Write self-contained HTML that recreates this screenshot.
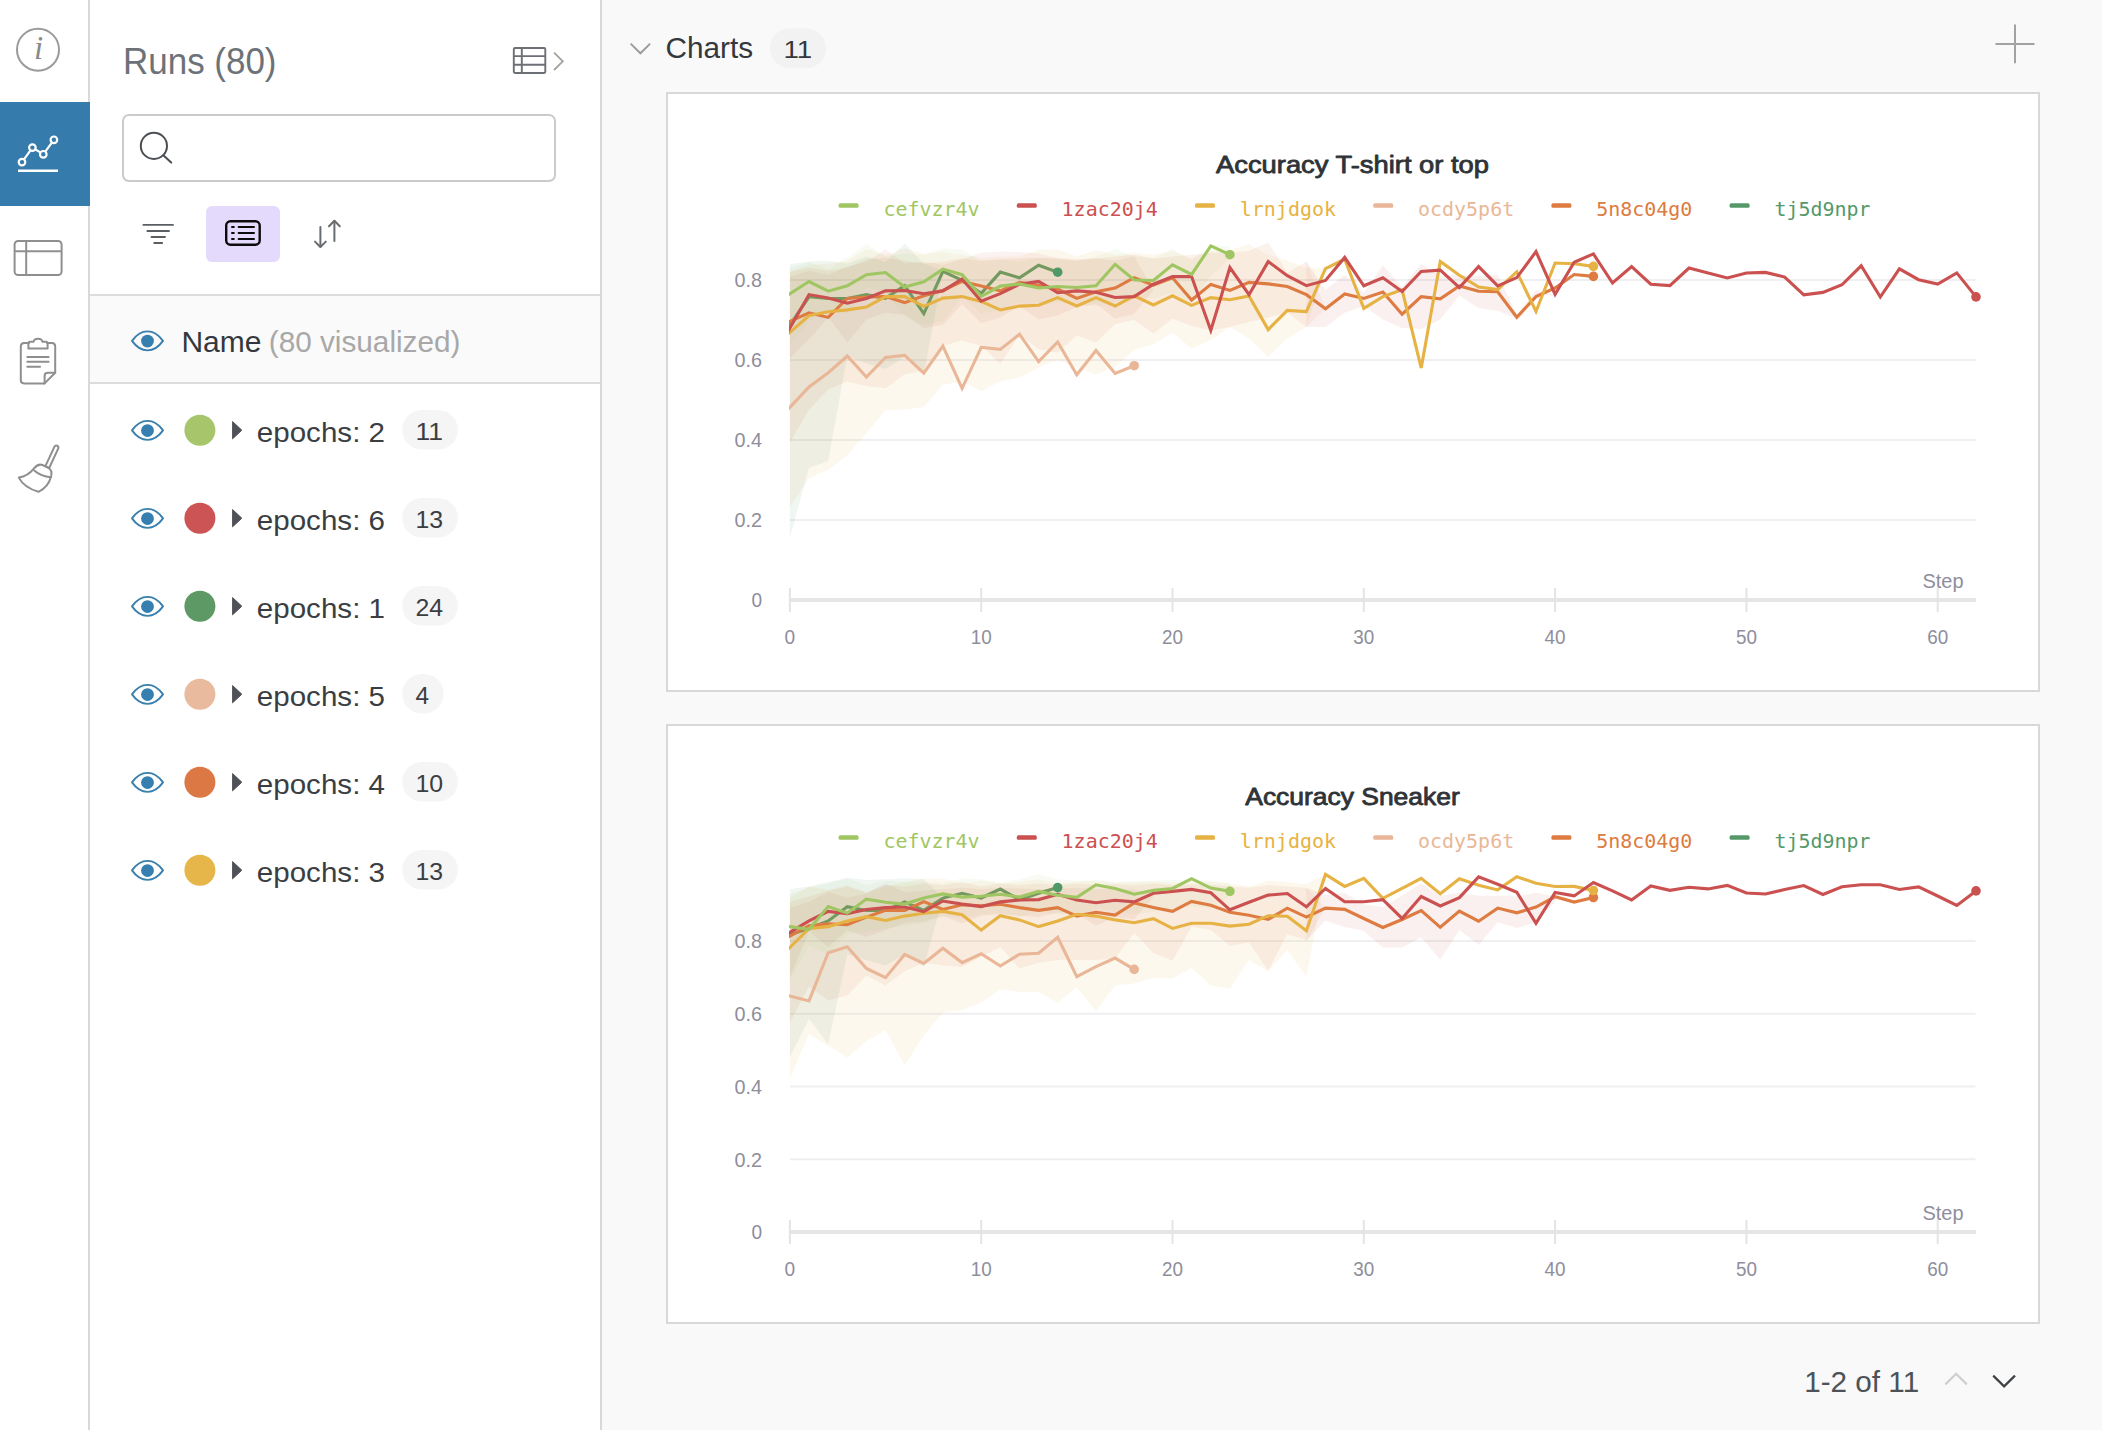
<!DOCTYPE html>
<html lang="en"><head><meta charset="utf-8"><title>Runs</title>
<style>
html,body{margin:0;padding:0;background:#fff;}
body{width:2102px;height:1430px;position:relative;overflow:hidden;font-family:"Liberation Sans", sans-serif;}
.abs{position:absolute;box-sizing:border-box;}
#nav{left:0;top:0;width:90px;height:1430px;background:#fff;border-right:2px solid #d9d9d9;}
#navsel{left:0;top:102px;width:90px;height:104px;background:#357bab;}
#side{left:90px;top:0;width:512px;height:1430px;background:#fff;border-right:2px solid #d8d8d8;}
#main{left:602px;top:0;width:1500px;height:1430px;background:#f9f9f9;}
#search{left:122px;top:114px;width:434px;height:68px;border:2px solid #cbcbcb;border-radius:7px;background:#fff;}
#grpbtn{left:206px;top:206px;width:74px;height:56px;border-radius:6px;background:#e4dafb;}
#namerow{left:90px;top:294px;width:510px;height:90px;background:#fafafa;border-top:2px solid #dcdcdc;border-bottom:2px solid #dcdcdc;}
.panel{left:666px;width:1374px;height:600px;background:#fff;border:2px solid #d8d8d8;}
svg{position:absolute;left:0;top:0;overflow:visible;}
</style></head>
<body>
<div id="nav" class="abs"></div>
<div id="navsel" class="abs"></div>
<div id="side" class="abs"></div>
<div id="main" class="abs"></div>
<div id="search" class="abs"></div>
<div id="grpbtn" class="abs"></div>
<div id="namerow" class="abs"></div>
<div class="abs panel" style="top:92px"></div>
<div class="abs panel" style="top:724px"></div>
<svg width="2102" height="1430" viewBox="0 0 2102 1430">
<defs><clipPath id="plotclip"><rect x="789" y="0" width="1300" height="1430"/></clipPath></defs>
<g id="navicons">
<circle cx="38" cy="49.7" r="21" fill="none" stroke="#9a9a9a" stroke-width="2"/>
<text x="38.6" y="59.4" font-size="33" fill="#8a8a8a" text-anchor="middle" font-weight="normal" font-family='"Liberation Serif", serif' font-style="italic">i</text>
<g stroke="#fff" stroke-width="2.2" fill="#357bab">
<polyline fill="none" points="22,162.1 32.4,147.6 43.3,154.3 53.9,139.8"/>
<circle cx="22" cy="162.1" r="3.3"/>
<circle cx="32.4" cy="147.6" r="3.3"/>
<circle cx="43.3" cy="154.3" r="3.3"/>
<circle cx="53.9" cy="139.8" r="3.3"/>
<line x1="18" y1="170.8" x2="58" y2="170.8" stroke-width="2.4"/>
</g>
<g fill="none" stroke="#8f8f8f" stroke-width="2"><rect x="14.6" y="240.9" width="47" height="34.2" rx="3.5"/><line x1="14.6" y1="251.3" x2="61.6" y2="251.3"/><line x1="26.2" y1="240.9" x2="26.2" y2="275"/></g>
<g fill="none" stroke="#8f8f8f" stroke-width="2" stroke-linejoin="round" stroke-linecap="round"><path d="M29,343 H24 Q20.8,343 20.8,346.5 V380 Q20.8,383.4 24,383.4 H44.6 L55.2,372.8 V346.5 Q55.2,343 52,343 H47"/><path d="M44.6,383.4 V376 Q44.6,372.8 48,372.8 H55.2"/><path d="M28.4,348.6 V343.5 Q28.4,341.8 30,341.8 H33.5 Q34,338.8 38,338.8 Q42,338.8 42.5,341.8 H46 Q47.6,341.8 47.6,343.5 V348.6 Z"/><line x1="27.3" y1="357" x2="48.6" y2="357"/><line x1="27.3" y1="361.8" x2="48.6" y2="361.8"/><line x1="27.3" y1="366.8" x2="40" y2="366.8"/></g>
<g fill="none" stroke="#8f8f8f" stroke-width="2" stroke-linejoin="round" stroke-linecap="round"><path d="M54.5,446.6 L45.4,466.2 L49.2,468 L58.3,448.4 Q58.8,446.4 57.2,445.6 Q55.4,445 54.5,446.6 Z"/><path d="M18.8,477.6 Q28,476 33.8,468.6 Q38,463.4 42.5,465 L48,467.6 Q52.5,470 51.2,476 Q48.5,487 38.5,491.8 Q24,487.5 18.8,477.6 Z"/><path d="M34.2,470.6 Q41,476.5 50.8,477.2"/></g>
</g>
<g id="sidebar">
<text x="123.0" y="74.3" font-size="37.5" fill="#6c7278" text-anchor="start" font-weight="normal" font-family='"Liberation Sans", sans-serif' textLength="153.5" lengthAdjust="spacingAndGlyphs">Runs (80)</text>
<g fill="none" stroke="#6c6f73" stroke-width="1.9"><rect x="513.8" y="48" width="31.5" height="25" rx="1.2"/><line x1="513.8" y1="56.1" x2="545.3" y2="56.1"/><line x1="513.8" y1="64.7" x2="545.3" y2="64.7"/><line x1="521.8" y1="48" x2="521.8" y2="73"/><polyline points="554,52.6 562.8,61.3 554,70" stroke="#a2a2a2" stroke-width="1.8"/></g>
<g fill="none" stroke="#4b4e53" stroke-width="2" stroke-linecap="round"><circle cx="153.9" cy="145.9" r="13.1"/><line x1="163.6" y1="155.4" x2="171.2" y2="162.6"/></g>
<g stroke="#5b5e62" stroke-width="1.9" stroke-linecap="round"><line x1="143.4" y1="224.9" x2="173" y2="224.9"/><line x1="147.4" y1="231" x2="169" y2="231"/><line x1="151.5" y1="237" x2="165" y2="237"/><line x1="154.2" y1="243" x2="162.2" y2="243"/></g>
<rect x="226.2" y="221.3" width="33.5" height="23.4" rx="4.2" fill="none" stroke="#0c0c0c" stroke-width="2.4"/><g stroke="#0c0c0c" stroke-width="2" stroke-linecap="round"><line x1="232" y1="227" x2="233.8" y2="227"/><line x1="238.6" y1="227" x2="254" y2="227"/><line x1="232" y1="233" x2="233.8" y2="233"/><line x1="238.6" y1="233" x2="254" y2="233"/><line x1="232" y1="239" x2="233.8" y2="239"/><line x1="238.6" y1="239" x2="254" y2="239"/></g>
<g fill="none" stroke="#686b6f" stroke-width="2" stroke-linecap="round" stroke-linejoin="round"><line x1="320.4" y1="227" x2="320.4" y2="246.8"/><polyline points="315,241.6 320.4,247 325.8,241.6"/><line x1="334.4" y1="221.2" x2="334.4" y2="241"/><polyline points="329,226.2 334.4,220.8 339.8,226.2"/></g>
<g transform="translate(147.5,340.85)" fill="none" stroke="#367fae" stroke-width="1.9" stroke-linejoin="round"><path d="M-15.5,0 C-11.2,-6 -5.8,-9.5 0,-9.5 C5.8,-9.5 11.2,-6 15.5,0 C11.2,6 5.8,9.5 0,9.5 C-5.8,9.5 -11.2,6 -15.5,0 Z"/><circle cx="0" cy="0.2" r="6.4" fill="#367fae" stroke="none"/></g>
<text x="181.4" y="351.6" font-size="29.5" fill="#34383c" text-anchor="start" font-weight="normal" font-family='"Liberation Sans", sans-serif' textLength="80.0" lengthAdjust="spacingAndGlyphs">Name</text>
<text x="268.8" y="351.6" font-size="29.5" fill="#a8a8a8" text-anchor="start" font-weight="normal" font-family='"Liberation Sans", sans-serif' textLength="191.6" lengthAdjust="spacingAndGlyphs">(80 visualized)</text>
<g transform="translate(147.5,430.35)" fill="none" stroke="#367fae" stroke-width="1.9" stroke-linejoin="round"><path d="M-15.5,0 C-11.2,-6 -5.8,-9.5 0,-9.5 C5.8,-9.5 11.2,-6 15.5,0 C11.2,6 5.8,9.5 0,9.5 C-5.8,9.5 -11.2,6 -15.5,0 Z"/><circle cx="0" cy="0.2" r="6.4" fill="#367fae" stroke="none"/></g>
<circle cx="199.9" cy="430.2" r="15.5" fill="#a7c66c"/>
<path d="M232.6,421.6 L241.8,430.2 L232.6,438.8 Z" fill="#4f5158" stroke="#4f5158" stroke-width="1" stroke-linejoin="round"/>
<text x="256.8" y="441.7" font-size="28" fill="#3a3e42" text-anchor="start" font-weight="normal" font-family='"Liberation Sans", sans-serif' textLength="128.2" lengthAdjust="spacingAndGlyphs">epochs: 2</text>
<rect x="402.2" y="409.9" width="55.6" height="39.6" rx="19.8" fill="#f5f5f5"/>
<text x="415.4" y="439.8" font-size="24.5" fill="#3a3e42" text-anchor="start" font-weight="normal" font-family='"Liberation Sans", sans-serif' textLength="27.6" lengthAdjust="spacingAndGlyphs">11</text>
<g transform="translate(147.5,518.35)" fill="none" stroke="#367fae" stroke-width="1.9" stroke-linejoin="round"><path d="M-15.5,0 C-11.2,-6 -5.8,-9.5 0,-9.5 C5.8,-9.5 11.2,-6 15.5,0 C11.2,6 5.8,9.5 0,9.5 C-5.8,9.5 -11.2,6 -15.5,0 Z"/><circle cx="0" cy="0.2" r="6.4" fill="#367fae" stroke="none"/></g>
<circle cx="199.9" cy="518.2" r="15.5" fill="#cc5454"/>
<path d="M232.6,509.6 L241.8,518.2 L232.6,526.8 Z" fill="#4f5158" stroke="#4f5158" stroke-width="1" stroke-linejoin="round"/>
<text x="256.8" y="529.7" font-size="28" fill="#3a3e42" text-anchor="start" font-weight="normal" font-family='"Liberation Sans", sans-serif' textLength="128.2" lengthAdjust="spacingAndGlyphs">epochs: 6</text>
<rect x="402.2" y="497.9" width="55.6" height="39.6" rx="19.8" fill="#f5f5f5"/>
<text x="415.4" y="527.8" font-size="24.5" fill="#3a3e42" text-anchor="start" font-weight="normal" font-family='"Liberation Sans", sans-serif' textLength="27.6" lengthAdjust="spacingAndGlyphs">13</text>
<g transform="translate(147.5,606.35)" fill="none" stroke="#367fae" stroke-width="1.9" stroke-linejoin="round"><path d="M-15.5,0 C-11.2,-6 -5.8,-9.5 0,-9.5 C5.8,-9.5 11.2,-6 15.5,0 C11.2,6 5.8,9.5 0,9.5 C-5.8,9.5 -11.2,6 -15.5,0 Z"/><circle cx="0" cy="0.2" r="6.4" fill="#367fae" stroke="none"/></g>
<circle cx="199.9" cy="606.2" r="15.5" fill="#5d9964"/>
<path d="M232.6,597.6 L241.8,606.2 L232.6,614.8 Z" fill="#4f5158" stroke="#4f5158" stroke-width="1" stroke-linejoin="round"/>
<text x="256.8" y="617.7" font-size="28" fill="#3a3e42" text-anchor="start" font-weight="normal" font-family='"Liberation Sans", sans-serif' textLength="128.2" lengthAdjust="spacingAndGlyphs">epochs: 1</text>
<rect x="402.2" y="585.9" width="55.6" height="39.6" rx="19.8" fill="#f5f5f5"/>
<text x="415.4" y="615.8" font-size="24.5" fill="#3a3e42" text-anchor="start" font-weight="normal" font-family='"Liberation Sans", sans-serif' textLength="27.6" lengthAdjust="spacingAndGlyphs">24</text>
<g transform="translate(147.5,694.35)" fill="none" stroke="#367fae" stroke-width="1.9" stroke-linejoin="round"><path d="M-15.5,0 C-11.2,-6 -5.8,-9.5 0,-9.5 C5.8,-9.5 11.2,-6 15.5,0 C11.2,6 5.8,9.5 0,9.5 C-5.8,9.5 -11.2,6 -15.5,0 Z"/><circle cx="0" cy="0.2" r="6.4" fill="#367fae" stroke="none"/></g>
<circle cx="199.9" cy="694.2" r="15.5" fill="#e9ba9e"/>
<path d="M232.6,685.6 L241.8,694.2 L232.6,702.8 Z" fill="#4f5158" stroke="#4f5158" stroke-width="1" stroke-linejoin="round"/>
<text x="256.8" y="705.7" font-size="28" fill="#3a3e42" text-anchor="start" font-weight="normal" font-family='"Liberation Sans", sans-serif' textLength="128.2" lengthAdjust="spacingAndGlyphs">epochs: 5</text>
<rect x="402.2" y="673.9" width="41.5" height="39.6" rx="19.8" fill="#f5f5f5"/>
<text x="415.4" y="703.8" font-size="24.5" fill="#3a3e42" text-anchor="start" font-weight="normal" font-family='"Liberation Sans", sans-serif' textLength="13.6" lengthAdjust="spacingAndGlyphs">4</text>
<g transform="translate(147.5,782.35)" fill="none" stroke="#367fae" stroke-width="1.9" stroke-linejoin="round"><path d="M-15.5,0 C-11.2,-6 -5.8,-9.5 0,-9.5 C5.8,-9.5 11.2,-6 15.5,0 C11.2,6 5.8,9.5 0,9.5 C-5.8,9.5 -11.2,6 -15.5,0 Z"/><circle cx="0" cy="0.2" r="6.4" fill="#367fae" stroke="none"/></g>
<circle cx="199.9" cy="782.2" r="15.5" fill="#dc7843"/>
<path d="M232.6,773.6 L241.8,782.2 L232.6,790.8 Z" fill="#4f5158" stroke="#4f5158" stroke-width="1" stroke-linejoin="round"/>
<text x="256.8" y="793.7" font-size="28" fill="#3a3e42" text-anchor="start" font-weight="normal" font-family='"Liberation Sans", sans-serif' textLength="128.2" lengthAdjust="spacingAndGlyphs">epochs: 4</text>
<rect x="402.2" y="761.9" width="55.6" height="39.6" rx="19.8" fill="#f5f5f5"/>
<text x="415.4" y="791.8" font-size="24.5" fill="#3a3e42" text-anchor="start" font-weight="normal" font-family='"Liberation Sans", sans-serif' textLength="27.6" lengthAdjust="spacingAndGlyphs">10</text>
<g transform="translate(147.5,870.35)" fill="none" stroke="#367fae" stroke-width="1.9" stroke-linejoin="round"><path d="M-15.5,0 C-11.2,-6 -5.8,-9.5 0,-9.5 C5.8,-9.5 11.2,-6 15.5,0 C11.2,6 5.8,9.5 0,9.5 C-5.8,9.5 -11.2,6 -15.5,0 Z"/><circle cx="0" cy="0.2" r="6.4" fill="#367fae" stroke="none"/></g>
<circle cx="199.9" cy="870.2" r="15.5" fill="#e6b64a"/>
<path d="M232.6,861.6 L241.8,870.2 L232.6,878.8 Z" fill="#4f5158" stroke="#4f5158" stroke-width="1" stroke-linejoin="round"/>
<text x="256.8" y="881.7" font-size="28" fill="#3a3e42" text-anchor="start" font-weight="normal" font-family='"Liberation Sans", sans-serif' textLength="128.2" lengthAdjust="spacingAndGlyphs">epochs: 3</text>
<rect x="402.2" y="849.9" width="55.6" height="39.6" rx="19.8" fill="#f5f5f5"/>
<text x="415.4" y="879.8" font-size="24.5" fill="#3a3e42" text-anchor="start" font-weight="normal" font-family='"Liberation Sans", sans-serif' textLength="27.6" lengthAdjust="spacingAndGlyphs">13</text>
</g>
<g id="charts">
<polyline points="630.6,43.6 640.4,53.3 650.2,43.6" fill="none" stroke="#9c9c9c" stroke-width="1.9"/>
<text x="665.5" y="57.5" font-size="30" fill="#34383c" text-anchor="start" font-weight="normal" font-family='"Liberation Sans", sans-serif' textLength="87.6" lengthAdjust="spacingAndGlyphs">Charts</text>
<rect x="770" y="28.2" width="56" height="40" rx="20" fill="#f2f2f2"/>
<text x="783.4" y="57.6" font-size="24.5" fill="#34383c" text-anchor="start" font-weight="normal" font-family='"Liberation Sans", sans-serif' textLength="28.8" lengthAdjust="spacingAndGlyphs">11</text>
<g stroke="#a2a2a2" stroke-width="2"><line x1="1995.5" y1="44" x2="2034.5" y2="44"/><line x1="2015" y1="24.5" x2="2015" y2="63.2"/></g>
<text x="1804.2" y="1392.0" font-size="30" fill="#4c5258" text-anchor="start" font-weight="normal" font-family='"Liberation Sans", sans-serif' textLength="115.0" lengthAdjust="spacingAndGlyphs">1-2 of 11</text>
<polyline points="1945.4,1384.4 1956.1,1373.8 1966.8,1384.4" fill="none" stroke="#cfcfcf" stroke-width="2.2"/>
<polyline points="1993.2,1375.6 2004.1,1386.4 2015,1375.6" fill="none" stroke="#3f4347" stroke-width="2.2"/>
<line x1="790" y1="520.0" x2="1975.5" y2="520.0" stroke="#efeff1" stroke-width="2"/>
<line x1="790" y1="440.0" x2="1975.5" y2="440.0" stroke="#efeff1" stroke-width="2"/>
<line x1="790" y1="360.0" x2="1975.5" y2="360.0" stroke="#efeff1" stroke-width="2"/>
<line x1="790" y1="280.0" x2="1975.5" y2="280.0" stroke="#efeff1" stroke-width="2"/>
<polygon points="789.9,270.7 809.0,265.0 828.2,263.5 847.3,260.7 866.4,249.3 885.5,255.0 904.7,248.6 923.8,253.6 942.9,252.1 962.1,255.0 981.2,257.8 1000.3,256.4 1019.5,256.4 1038.6,250.0 1057.7,249.3 1076.8,256.4 1096.0,250.0 1115.1,254.7 1134.2,252.8 1153.4,254.7 1172.5,250.9 1191.6,258.5 1210.8,250.9 1229.9,250.0 1249.0,244.3 1268.2,254.7 1287.3,260.4 1306.4,268.1 1325.5,268.6 1306.4,327.1 1287.3,338.5 1268.2,357.0 1249.0,338.5 1229.9,327.1 1210.8,339.9 1191.6,348.5 1172.5,332.8 1153.4,344.2 1134.2,349.9 1115.1,367.0 1096.0,374.2 1076.8,367.8 1057.7,359.8 1038.6,367.8 1019.5,377.5 1000.3,381.5 981.2,391.1 962.1,381.5 942.9,384.7 923.8,407.2 904.7,409.6 885.5,410.4 866.4,432.9 847.3,455.5 828.2,469.9 809.0,478.0 789.9,506.9" fill="#e6b243" fill-opacity="0.09"/>
<polygon points="789.9,272.1 809.0,267.8 828.2,270.7 847.3,267.8 866.4,259.3 885.5,257.8 904.7,260.7 923.8,263.5 942.9,261.4 962.1,258.5 981.2,260.7 1000.3,259.3 1019.5,258.5 1038.6,257.8 1057.7,258.5 1076.8,260.7 1096.0,258.5 1115.1,256.6 1134.2,254.7 1153.4,258.5 1172.5,256.6 1191.6,254.7 1210.8,252.8 1229.9,252.8 1249.0,250.9 1268.2,242.4 1287.3,272.8 1306.4,261.4 1325.5,308.7 1306.4,327.1 1287.3,312.5 1268.2,317.7 1249.0,321.9 1229.9,327.0 1210.8,330.2 1191.6,326.0 1172.5,318.7 1153.4,333.4 1134.2,320.0 1115.1,324.0 1096.0,342.7 1076.8,335.6 1057.7,352.7 1038.6,349.3 1019.5,334.8 1000.3,363.8 981.2,346.0 962.1,340.5 942.9,346.0 923.8,371.0 904.7,374.2 885.5,388.2 866.4,386.3 847.3,381.5 828.2,389.5 809.0,410.0 789.9,442.6" fill="#dd7b40" fill-opacity="0.075"/>
<polygon points="789.9,272.1 809.0,267.8 828.2,270.7 847.3,267.8 866.4,259.3 885.5,257.8 904.7,260.7 923.8,263.5 942.9,261.4 962.1,258.5 981.2,260.7 1000.3,259.3 1019.5,258.5 1038.6,257.8 1057.7,258.5 1076.8,260.7 1096.0,258.5 1115.1,256.6 1134.2,254.7 1153.4,258.5 1172.5,256.6 1191.6,254.7 1210.8,252.8 1229.9,252.8 1249.0,250.9 1268.2,242.4 1287.3,272.8 1306.4,261.4 1306.4,327.1 1287.3,312.5 1268.2,317.7 1249.0,321.9 1229.9,327.0 1210.8,330.2 1191.6,326.0 1172.5,318.7 1153.4,333.4 1134.2,320.0 1115.1,324.0 1096.0,342.7 1076.8,335.6 1057.7,352.7 1038.6,349.3 1019.5,334.8 1000.3,363.8 981.2,346.0 962.1,340.5 942.9,346.0 923.8,371.0 904.7,374.2 885.5,388.2 866.4,386.3 847.3,381.5 828.2,389.5 809.0,410.0 789.9,442.6" fill="#cb5050" fill-opacity="0.02"/>
<polygon points="1306.4,261.4 1325.5,289.9 1344.7,274.7 1363.8,292.8 1382.9,265.2 1402.1,287.1 1421.2,263.9 1440.3,275.7 1459.4,274.7 1478.6,275.7 1497.7,274.7 1516.8,315.0 1536.0,290.0 1555.1,295.0 1555.1,295.6 1536.0,295.0 1516.8,318.5 1497.7,310.8 1478.6,308.2 1459.4,295.4 1440.3,319.4 1421.2,329.0 1402.1,328.0 1382.9,319.4 1363.8,306.1 1344.7,312.8 1325.5,327.1 1306.4,327.1" fill="#cb5050" fill-opacity="0.07"/>
<polygon points="1306.4,261.4 1325.5,289.9 1344.7,274.7 1363.8,292.8 1382.9,265.2 1402.1,287.1 1421.2,263.9 1440.3,275.7 1459.4,274.7 1478.6,275.7 1497.7,274.7 1516.8,315.0 1536.0,290.0 1555.1,295.0 1555.1,295.6 1536.0,295.0 1516.8,318.5 1497.7,310.8 1478.6,308.2 1459.4,295.4 1440.3,319.4 1421.2,329.0 1402.1,328.0 1382.9,319.4 1363.8,306.1 1344.7,312.8 1325.5,327.1 1306.4,327.1" fill="#dd7b40" fill-opacity="0.025"/>
<polygon points="789.9,276.4 809.0,270.7 828.2,275.0 847.3,266.4 866.4,262.1 885.5,249.3 904.7,263.5 923.8,262.1 942.9,265.0 962.1,259.3 981.2,252.8 1000.3,251.4 1019.5,252.1 1038.6,253.6 1057.7,257.8 1076.8,259.3 1096.0,258.5 1115.1,260.4 1134.2,256.6 1153.4,290.0 1153.4,290.0 1134.2,314.0 1115.1,318.5 1096.0,304.0 1076.8,307.0 1057.7,315.6 1038.6,319.4 1019.5,306.0 1000.3,317.5 981.2,323.0 962.1,304.0 942.9,325.0 923.8,328.0 904.7,315.0 885.5,312.8 866.4,319.5 847.3,342.3 828.2,317.6 809.0,339.5 789.9,358.5" fill="#cb5050" fill-opacity="0.06"/>
<polygon points="789.9,276.4 809.0,270.7 828.2,275.0 847.3,266.4 866.4,262.1 885.5,249.3 904.7,263.5 923.8,262.1 942.9,265.0 962.1,259.3 981.2,252.8 1000.3,251.4 1019.5,252.1 1038.6,253.6 1057.7,257.8 1076.8,259.3 1096.0,258.5 1115.1,260.4 1134.2,256.6 1153.4,290.0 1153.4,290.0 1134.2,314.0 1115.1,318.5 1096.0,304.0 1076.8,307.0 1057.7,315.6 1038.6,319.4 1019.5,306.0 1000.3,317.5 981.2,323.0 962.1,304.0 942.9,325.0 923.8,328.0 904.7,315.0 885.5,312.8 866.4,319.5 847.3,342.3 828.2,317.6 809.0,339.5 789.9,358.5" fill="#dd7b40" fill-opacity="0.02"/>
<polygon points="789.9,267.8 809.0,262.1 828.2,269.3 847.3,257.8 866.4,244.3 885.5,256.4 904.7,253.6 923.8,255.0 942.9,248.6 962.1,249.3 981.2,260.7 1000.3,260.0 1019.5,262.1 1038.6,257.8 1057.7,260.0 1076.8,260.7 1096.0,256.6 1115.1,249.0 1134.2,256.6 1153.4,258.5 1172.5,249.0 1191.6,260.4 1210.8,245.2 1229.9,246.2 1229.9,258.5 1210.8,275.7 1191.6,302.3 1172.5,292.8 1153.4,298.5 1134.2,296.6 1115.1,302.3 1096.0,306.1 1076.8,304.2 1057.7,302.3 1038.6,306.1 1019.5,302.3 1000.3,309.9 981.2,313.7 962.1,296.6 942.9,321.3 923.8,325.1 904.7,315.6 885.5,292.8 866.4,287.1 847.3,313.7 828.2,309.9 809.0,321.3 789.9,344.2" fill="#9fc662" fill-opacity="0.07"/>
<polygon points="789.9,264.3 809.0,261.4 828.2,260.7 847.3,263.5 866.4,256.4 885.5,262.1 904.7,243.6 923.8,263.5 942.9,270.9 942.9,270.9 923.8,374.7 904.7,357.0 885.5,369.0 866.4,363.3 847.3,356.0 828.2,461.0 809.0,468.0 789.9,537.5" fill="#4f9868" fill-opacity="0.088"/>
<line x1="789" y1="600" x2="1976" y2="600" stroke="#e6e6e8" stroke-width="4"/>
<line x1="789.9" y1="588" x2="789.9" y2="612" stroke="#e4e4e6" stroke-width="2"/>
<text x="789.9" y="644.2" font-size="20" fill="#8e8e9c" text-anchor="middle" font-weight="normal" font-family='"Liberation Sans", sans-serif' textLength="10.6" lengthAdjust="spacingAndGlyphs">0</text>
<line x1="981.2" y1="588" x2="981.2" y2="612" stroke="#e4e4e6" stroke-width="2"/>
<text x="981.2" y="644.2" font-size="20" fill="#8e8e9c" text-anchor="middle" font-weight="normal" font-family='"Liberation Sans", sans-serif' textLength="21.0" lengthAdjust="spacingAndGlyphs">10</text>
<line x1="1172.5" y1="588" x2="1172.5" y2="612" stroke="#e4e4e6" stroke-width="2"/>
<text x="1172.5" y="644.2" font-size="20" fill="#8e8e9c" text-anchor="middle" font-weight="normal" font-family='"Liberation Sans", sans-serif' textLength="21.0" lengthAdjust="spacingAndGlyphs">20</text>
<line x1="1363.8" y1="588" x2="1363.8" y2="612" stroke="#e4e4e6" stroke-width="2"/>
<text x="1363.8" y="644.2" font-size="20" fill="#8e8e9c" text-anchor="middle" font-weight="normal" font-family='"Liberation Sans", sans-serif' textLength="21.0" lengthAdjust="spacingAndGlyphs">30</text>
<line x1="1555.1" y1="588" x2="1555.1" y2="612" stroke="#e4e4e6" stroke-width="2"/>
<text x="1555.1" y="644.2" font-size="20" fill="#8e8e9c" text-anchor="middle" font-weight="normal" font-family='"Liberation Sans", sans-serif' textLength="21.0" lengthAdjust="spacingAndGlyphs">40</text>
<line x1="1746.4" y1="588" x2="1746.4" y2="612" stroke="#e4e4e6" stroke-width="2"/>
<text x="1746.4" y="644.2" font-size="20" fill="#8e8e9c" text-anchor="middle" font-weight="normal" font-family='"Liberation Sans", sans-serif' textLength="21.0" lengthAdjust="spacingAndGlyphs">50</text>
<line x1="1937.7" y1="588" x2="1937.7" y2="612" stroke="#e4e4e6" stroke-width="2"/>
<text x="1937.7" y="644.2" font-size="20" fill="#8e8e9c" text-anchor="middle" font-weight="normal" font-family='"Liberation Sans", sans-serif' textLength="21.0" lengthAdjust="spacingAndGlyphs">60</text>
<text x="762.0" y="607.2" font-size="20" fill="#8e8e9c" text-anchor="end" font-weight="normal" font-family='"Liberation Sans", sans-serif' textLength="10.6" lengthAdjust="spacingAndGlyphs">0</text>
<text x="762.0" y="527.2" font-size="20" fill="#8e8e9c" text-anchor="end" font-weight="normal" font-family='"Liberation Sans", sans-serif' textLength="27.5" lengthAdjust="spacingAndGlyphs">0.2</text>
<text x="762.0" y="447.2" font-size="20" fill="#8e8e9c" text-anchor="end" font-weight="normal" font-family='"Liberation Sans", sans-serif' textLength="27.5" lengthAdjust="spacingAndGlyphs">0.4</text>
<text x="762.0" y="367.2" font-size="20" fill="#8e8e9c" text-anchor="end" font-weight="normal" font-family='"Liberation Sans", sans-serif' textLength="27.5" lengthAdjust="spacingAndGlyphs">0.6</text>
<text x="762.0" y="287.2" font-size="20" fill="#8e8e9c" text-anchor="end" font-weight="normal" font-family='"Liberation Sans", sans-serif' textLength="27.5" lengthAdjust="spacingAndGlyphs">0.8</text>
<text x="1963.5" y="587.7" font-size="20.5" fill="#8e8e9c" text-anchor="end" font-weight="normal" font-family='"Liberation Sans", sans-serif' textLength="41.0" lengthAdjust="spacingAndGlyphs">Step</text>
<polyline points="780.3,339.3 789.9,325.1 809.0,296.8 828.2,298.5 847.3,298.5 866.4,294.7 885.5,298.4 904.7,285.6 923.8,313.6 942.9,271.4 962.1,280.4 981.2,293.4 1000.3,272.1 1019.5,277.8 1038.6,265.3 1057.7,272.2" fill="none" stroke="#73995f" stroke-width="3.1" stroke-linejoin="miter" stroke-miterlimit="4" clip-path="url(#plotclip)"/>
<polyline points="780.3,417.5 789.9,407.4 809.0,387.0 828.2,372.7 847.3,356.0 866.4,377.0 885.5,357.5 904.7,355.3 923.8,373.1 942.9,346.2 962.1,388.3 981.2,347.3 1000.3,349.4 1019.5,334.2 1038.6,361.6 1057.7,342.0 1076.8,374.7 1096.0,350.5 1115.1,373.4 1134.2,365.7" fill="none" stroke="#e9b797" stroke-width="3.1" stroke-linejoin="miter" stroke-miterlimit="4" clip-path="url(#plotclip)"/>
<polyline points="780.3,325.6 789.9,321.3 809.0,312.8 828.2,317.4 847.3,298.5 866.4,297.0 885.5,296.6 904.7,302.6 923.8,295.7 942.9,290.5 962.1,281.4 981.2,286.1 1000.3,290.8 1019.5,282.4 1038.6,285.2 1057.7,289.0 1076.8,298.4 1096.0,291.8 1115.1,288.0 1134.2,277.7 1153.4,285.1 1172.5,277.8 1191.6,300.0 1210.8,284.4 1229.9,290.4 1249.0,282.4 1268.2,283.9 1287.3,286.5 1306.4,294.7 1325.5,308.7 1344.7,293.9 1363.8,298.5 1382.9,292.1 1402.1,314.2 1421.2,296.7 1440.3,298.8 1459.4,285.9 1478.6,291.3 1497.7,291.8 1516.8,317.3 1536.0,296.6 1555.1,288.0 1574.2,274.5 1593.4,276.4" fill="none" stroke="#dd7b40" stroke-width="3.1" stroke-linejoin="miter" stroke-miterlimit="4" clip-path="url(#plotclip)"/>
<polyline points="780.3,340.8 789.9,332.4 809.0,315.6 828.2,311.8 847.3,309.9 866.4,307.1 885.5,296.6 904.7,296.6 923.8,306.4 942.9,298.1 962.1,296.6 981.2,301.4 1000.3,309.9 1019.5,306.1 1038.6,305.2 1057.7,297.6 1076.8,306.0 1096.0,297.7 1115.1,306.0 1134.2,295.8 1153.4,305.0 1172.5,295.8 1191.6,305.4 1210.8,297.6 1229.9,299.8 1249.0,295.9 1268.2,329.6 1287.3,310.4 1306.4,311.6 1325.5,268.6 1344.7,259.1 1363.8,308.4 1382.9,296.6 1402.1,289.9 1421.2,368.0 1440.3,261.4 1459.4,275.3 1478.6,287.1 1497.7,289.5 1516.8,271.7 1536.0,311.5 1555.1,263.0 1574.2,263.8 1593.4,266.4" fill="none" stroke="#e6b243" stroke-width="3.1" stroke-linejoin="miter" stroke-miterlimit="4" clip-path="url(#plotclip)"/>
<polyline points="780.3,344.7 789.9,328.0 809.0,294.6 828.2,298.1 847.3,303.2 866.4,298.5 885.5,290.9 904.7,290.5 923.8,293.7 942.9,290.9 962.1,278.9 981.2,301.1 1000.3,293.7 1019.5,284.2 1038.6,281.4 1057.7,292.7 1076.8,290.9 1096.0,292.2 1115.1,297.5 1134.2,296.6 1153.4,284.2 1172.5,276.6 1191.6,276.5 1210.8,330.4 1229.9,267.6 1249.0,294.7 1268.2,261.6 1287.3,275.7 1306.4,285.7 1325.5,280.4 1344.7,257.4 1363.8,285.8 1382.9,277.7 1402.1,291.5 1421.2,271.5 1440.3,270.1 1459.4,287.6 1478.6,266.6 1497.7,285.9 1516.8,277.6 1536.0,251.6 1555.1,294.4 1574.2,262.3 1593.4,253.9 1612.5,283.0 1631.6,266.6 1650.8,284.2 1669.9,285.6 1689.0,268.0 1708.1,273.0 1727.3,278.0 1746.4,273.0 1765.5,272.4 1784.7,277.1 1803.8,294.9 1822.9,292.4 1842.0,284.8 1861.2,265.8 1880.3,297.0 1899.4,268.8 1918.6,279.7 1937.7,284.1 1956.8,272.9 1976.0,296.9" fill="none" stroke="#cb5050" stroke-width="3.1" stroke-linejoin="miter" stroke-miterlimit="4" clip-path="url(#plotclip)"/>
<polyline points="780.3,299.9 789.9,293.7 809.0,281.5 828.2,291.2 847.3,285.8 866.4,274.7 885.5,272.5 904.7,287.0 923.8,281.8 942.9,269.1 962.1,274.7 981.2,296.3 1000.3,286.1 1019.5,283.9 1038.6,288.0 1057.7,286.5 1076.8,287.5 1096.0,285.8 1115.1,264.3 1134.2,280.0 1153.4,280.5 1172.5,264.8 1191.6,274.4 1210.8,245.9 1229.9,254.7" fill="none" stroke="#9fc662" stroke-width="3.1" stroke-linejoin="miter" stroke-miterlimit="4" clip-path="url(#plotclip)"/>
<circle cx="1057.7" cy="272.2" r="4.8" fill="#4f9868"/>
<circle cx="1134.2" cy="365.7" r="4.8" fill="#e9b797"/>
<circle cx="1593.4" cy="276.4" r="4.8" fill="#dd7b40"/>
<circle cx="1593.4" cy="266.4" r="4.8" fill="#e6b243"/>
<circle cx="1976.0" cy="296.9" r="4.8" fill="#cb5050"/>
<circle cx="1229.9" cy="254.7" r="4.8" fill="#9fc662"/>
<text x="1352.5" y="172.6" font-size="24.6" fill="#2f3337" text-anchor="middle" font-weight="normal" font-family='"Liberation Sans", sans-serif' textLength="273.0" lengthAdjust="spacingAndGlyphs" stroke="#2f3337" stroke-width="0.85" stroke-linejoin="round">Accuracy T-shirt or top</text>
<rect x="838.6" y="203.3" width="20" height="4.5" rx="1.6" fill="#9fc662"/>
<text x="883.4" y="215.8" font-size="20.3" fill="#9fc662" text-anchor="start" font-weight="normal" font-family='"DejaVu Sans Mono", "Liberation Mono", monospace' textLength="96.2" lengthAdjust="spacingAndGlyphs">cefvzr4v</text>
<rect x="1016.8" y="203.3" width="20" height="4.5" rx="1.6" fill="#cb5050"/>
<text x="1061.6" y="215.8" font-size="20.3" fill="#cb5050" text-anchor="start" font-weight="normal" font-family='"DejaVu Sans Mono", "Liberation Mono", monospace' textLength="96.2" lengthAdjust="spacingAndGlyphs">1zac20j4</text>
<rect x="1195.0" y="203.3" width="20" height="4.5" rx="1.6" fill="#e6b243"/>
<text x="1239.8" y="215.8" font-size="20.3" fill="#e6b243" text-anchor="start" font-weight="normal" font-family='"DejaVu Sans Mono", "Liberation Mono", monospace' textLength="96.2" lengthAdjust="spacingAndGlyphs">lrnjdgok</text>
<rect x="1373.2" y="203.3" width="20" height="4.5" rx="1.6" fill="#e9b797"/>
<text x="1418.0" y="215.8" font-size="20.3" fill="#e9b797" text-anchor="start" font-weight="normal" font-family='"DejaVu Sans Mono", "Liberation Mono", monospace' textLength="96.2" lengthAdjust="spacingAndGlyphs">ocdy5p6t</text>
<rect x="1551.4" y="203.3" width="20" height="4.5" rx="1.6" fill="#dd7b40"/>
<text x="1596.2" y="215.8" font-size="20.3" fill="#dd7b40" text-anchor="start" font-weight="normal" font-family='"DejaVu Sans Mono", "Liberation Mono", monospace' textLength="96.2" lengthAdjust="spacingAndGlyphs">5n8c04g0</text>
<rect x="1729.6" y="203.3" width="20" height="4.5" rx="1.6" fill="#55996a"/>
<text x="1774.4" y="215.8" font-size="20.3" fill="#55996a" text-anchor="start" font-weight="normal" font-family='"DejaVu Sans Mono", "Liberation Mono", monospace' textLength="96.2" lengthAdjust="spacingAndGlyphs">tj5d9npr</text>
<line x1="790" y1="1159.2" x2="1975.5" y2="1159.2" stroke="#efeff1" stroke-width="2"/>
<line x1="790" y1="1086.5" x2="1975.5" y2="1086.5" stroke="#efeff1" stroke-width="2"/>
<line x1="790" y1="1013.8" x2="1975.5" y2="1013.8" stroke="#efeff1" stroke-width="2"/>
<line x1="790" y1="941.0" x2="1975.5" y2="941.0" stroke="#efeff1" stroke-width="2"/>
<polygon points="789.9,897.8 809.0,886.4 828.2,890.0 847.3,885.0 866.4,893.5 885.5,886.4 904.7,882.1 923.8,878.6 942.9,878.6 962.1,883.6 981.2,880.7 1000.3,883.6 1019.5,882.1 1038.6,879.3 1057.7,883.6 1076.8,882.1 1096.0,880.7 1115.1,882.8 1134.2,882.1 1153.4,881.4 1172.5,882.8 1191.6,880.7 1210.8,882.1 1229.9,883.6 1249.0,886.4 1268.2,880.7 1287.3,882.1 1306.4,884.3 1325.5,874.4 1306.4,977.0 1287.3,949.9 1268.2,971.3 1249.0,959.9 1229.9,988.5 1210.8,985.6 1191.6,967.9 1172.5,978.5 1153.4,977.9 1134.2,983.6 1115.1,985.6 1096.0,1011.3 1076.8,987.0 1057.7,1002.7 1038.6,992.0 1019.5,992.0 1000.3,989.2 981.2,1002.7 962.1,1009.9 942.9,1012.7 923.8,1035.6 904.7,1065.5 885.5,1029.9 866.4,1041.3 847.3,1057.7 828.2,1045.5 809.0,1034.1 789.9,1078.4" fill="#e6b243" fill-opacity="0.09"/>
<polygon points="789.9,902.1 809.0,896.4 828.2,890.7 847.3,886.4 866.4,892.1 885.5,885.0 904.7,886.4 923.8,883.6 942.9,885.0 962.1,882.1 981.2,886.4 1000.3,883.6 1019.5,885.0 1038.6,883.6 1057.7,885.0 1076.8,883.6 1096.0,885.0 1115.1,884.3 1134.2,885.0 1153.4,883.6 1172.5,885.0 1191.6,884.3 1210.8,885.0 1229.9,886.4 1249.0,887.8 1268.2,885.0 1287.3,886.4 1306.4,887.8 1325.5,908.1 1306.4,940.4 1287.3,934.0 1268.2,970.7 1249.0,942.4 1229.9,946.0 1210.8,929.9 1191.6,926.7 1172.5,960.8 1153.4,952.9 1134.2,933.0 1115.1,958.5 1096.0,960.0 1076.8,959.9 1057.7,959.9 1038.6,962.8 1019.5,968.5 1000.3,947.1 981.2,957.1 962.1,967.1 942.9,965.6 923.8,962.8 904.7,971.3 885.5,985.6 866.4,975.6 847.3,995.6 828.2,1000.6 809.0,986.3 789.9,1022.7" fill="#dd7b40" fill-opacity="0.075"/>
<polygon points="789.9,902.1 809.0,896.4 828.2,890.7 847.3,886.4 866.4,892.1 885.5,885.0 904.7,886.4 923.8,883.6 942.9,885.0 962.1,882.1 981.2,886.4 1000.3,883.6 1019.5,885.0 1038.6,883.6 1057.7,885.0 1076.8,883.6 1096.0,885.0 1115.1,884.3 1134.2,885.0 1153.4,883.6 1172.5,885.0 1191.6,884.3 1210.8,885.0 1229.9,886.4 1249.0,887.8 1268.2,885.0 1287.3,886.4 1306.4,887.8 1306.4,940.4 1287.3,934.0 1268.2,970.7 1249.0,942.4 1229.9,946.0 1210.8,929.9 1191.6,926.7 1172.5,960.8 1153.4,952.9 1134.2,933.0 1115.1,958.5 1096.0,960.0 1076.8,959.9 1057.7,959.9 1038.6,962.8 1019.5,968.5 1000.3,947.1 981.2,957.1 962.1,967.1 942.9,965.6 923.8,962.8 904.7,971.3 885.5,985.6 866.4,975.6 847.3,995.6 828.2,1000.6 809.0,986.3 789.9,1022.7" fill="#cb5050" fill-opacity="0.02"/>
<polygon points="1306.4,887.8 1325.5,894.7 1344.7,892.8 1363.8,904.2 1382.9,907.1 1402.1,895.7 1421.2,883.3 1440.3,895.7 1459.4,892.8 1478.6,895.7 1497.7,895.7 1516.8,896.6 1536.0,892.8 1555.1,896.6 1555.1,901.4 1536.0,922.3 1516.8,928.0 1497.7,922.3 1478.6,945.1 1459.4,929.9 1440.3,959.4 1421.2,937.5 1402.1,947.4 1382.9,947.4 1363.8,930.9 1344.7,927.1 1325.5,920.4 1306.4,940.4" fill="#cb5050" fill-opacity="0.07"/>
<polygon points="1306.4,887.8 1325.5,894.7 1344.7,892.8 1363.8,904.2 1382.9,907.1 1402.1,895.7 1421.2,883.3 1440.3,895.7 1459.4,892.8 1478.6,895.7 1497.7,895.7 1516.8,896.6 1536.0,892.8 1555.1,896.6 1555.1,901.4 1536.0,922.3 1516.8,928.0 1497.7,922.3 1478.6,945.1 1459.4,929.9 1440.3,959.4 1421.2,937.5 1402.1,947.4 1382.9,947.4 1363.8,930.9 1344.7,927.1 1325.5,920.4 1306.4,940.4" fill="#dd7b40" fill-opacity="0.025"/>
<polygon points="789.9,907.8 809.0,902.1 828.2,892.1 847.3,897.8 866.4,893.5 885.5,883.6 904.7,892.1 923.8,890.7 942.9,889.3 962.1,887.8 981.2,889.3 1000.3,887.8 1019.5,888.5 1038.6,889.3 1057.7,888.5 1076.8,887.8 1096.0,889.3 1115.1,888.5 1134.2,889.3 1153.4,896.4 1153.4,896.4 1134.2,919.5 1115.1,917.0 1096.0,925.7 1076.8,914.3 1057.7,912.8 1038.6,917.1 1019.5,915.7 1000.3,914.3 981.2,915.7 962.1,923.5 942.9,915.7 923.8,921.4 904.7,922.8 885.5,930.0 866.4,937.1 847.3,930.0 828.2,947.1 809.0,931.4 789.9,977.0" fill="#cb5050" fill-opacity="0.06"/>
<polygon points="789.9,907.8 809.0,902.1 828.2,892.1 847.3,897.8 866.4,893.5 885.5,883.6 904.7,892.1 923.8,890.7 942.9,889.3 962.1,887.8 981.2,889.3 1000.3,887.8 1019.5,888.5 1038.6,889.3 1057.7,888.5 1076.8,887.8 1096.0,889.3 1115.1,888.5 1134.2,889.3 1153.4,896.4 1153.4,896.4 1134.2,919.5 1115.1,917.0 1096.0,925.7 1076.8,914.3 1057.7,912.8 1038.6,917.1 1019.5,915.7 1000.3,914.3 981.2,915.7 962.1,923.5 942.9,915.7 923.8,921.4 904.7,922.8 885.5,930.0 866.4,937.1 847.3,930.0 828.2,947.1 809.0,931.4 789.9,977.0" fill="#dd7b40" fill-opacity="0.02"/>
<polygon points="789.9,893.5 809.0,887.8 828.2,883.6 847.3,878.6 866.4,885.0 885.5,880.7 904.7,882.1 923.8,881.4 942.9,882.8 962.1,878.6 981.2,879.3 1000.3,882.8 1019.5,879.3 1038.6,874.3 1057.7,879.3 1076.8,880.7 1096.0,880.0 1115.1,882.1 1134.2,881.4 1153.4,880.7 1172.5,880.0 1191.6,879.3 1210.8,880.7 1229.9,883.6 1229.9,895.7 1210.8,908.5 1191.6,905.7 1172.5,908.5 1153.4,911.4 1134.2,914.2 1115.1,911.4 1096.0,908.5 1076.8,917.1 1057.7,914.2 1038.6,911.4 1019.5,917.1 1000.3,912.8 981.2,914.2 962.1,918.5 942.9,917.1 923.8,922.8 904.7,925.7 885.5,928.5 866.4,931.4 847.3,934.2 828.2,954.2 809.0,945.6 789.9,979.9" fill="#9fc662" fill-opacity="0.07"/>
<polygon points="789.9,889.3 809.0,886.4 828.2,882.1 847.3,877.8 866.4,880.0 885.5,879.3 904.7,878.6 923.8,879.3 942.9,898.1 942.9,898.1 923.8,967.1 904.7,954.2 885.5,965.6 866.4,959.9 847.3,954.2 828.2,1044.1 809.0,1019.1 789.9,1057.0" fill="#4f9868" fill-opacity="0.088"/>
<line x1="789" y1="1232" x2="1976" y2="1232" stroke="#e6e6e8" stroke-width="4"/>
<line x1="789.9" y1="1220" x2="789.9" y2="1244" stroke="#e4e4e6" stroke-width="2"/>
<text x="789.9" y="1276.2" font-size="20" fill="#8e8e9c" text-anchor="middle" font-weight="normal" font-family='"Liberation Sans", sans-serif' textLength="10.6" lengthAdjust="spacingAndGlyphs">0</text>
<line x1="981.2" y1="1220" x2="981.2" y2="1244" stroke="#e4e4e6" stroke-width="2"/>
<text x="981.2" y="1276.2" font-size="20" fill="#8e8e9c" text-anchor="middle" font-weight="normal" font-family='"Liberation Sans", sans-serif' textLength="21.0" lengthAdjust="spacingAndGlyphs">10</text>
<line x1="1172.5" y1="1220" x2="1172.5" y2="1244" stroke="#e4e4e6" stroke-width="2"/>
<text x="1172.5" y="1276.2" font-size="20" fill="#8e8e9c" text-anchor="middle" font-weight="normal" font-family='"Liberation Sans", sans-serif' textLength="21.0" lengthAdjust="spacingAndGlyphs">20</text>
<line x1="1363.8" y1="1220" x2="1363.8" y2="1244" stroke="#e4e4e6" stroke-width="2"/>
<text x="1363.8" y="1276.2" font-size="20" fill="#8e8e9c" text-anchor="middle" font-weight="normal" font-family='"Liberation Sans", sans-serif' textLength="21.0" lengthAdjust="spacingAndGlyphs">30</text>
<line x1="1555.1" y1="1220" x2="1555.1" y2="1244" stroke="#e4e4e6" stroke-width="2"/>
<text x="1555.1" y="1276.2" font-size="20" fill="#8e8e9c" text-anchor="middle" font-weight="normal" font-family='"Liberation Sans", sans-serif' textLength="21.0" lengthAdjust="spacingAndGlyphs">40</text>
<line x1="1746.4" y1="1220" x2="1746.4" y2="1244" stroke="#e4e4e6" stroke-width="2"/>
<text x="1746.4" y="1276.2" font-size="20" fill="#8e8e9c" text-anchor="middle" font-weight="normal" font-family='"Liberation Sans", sans-serif' textLength="21.0" lengthAdjust="spacingAndGlyphs">50</text>
<line x1="1937.7" y1="1220" x2="1937.7" y2="1244" stroke="#e4e4e6" stroke-width="2"/>
<text x="1937.7" y="1276.2" font-size="20" fill="#8e8e9c" text-anchor="middle" font-weight="normal" font-family='"Liberation Sans", sans-serif' textLength="21.0" lengthAdjust="spacingAndGlyphs">60</text>
<text x="762.0" y="1239.2" font-size="20" fill="#8e8e9c" text-anchor="end" font-weight="normal" font-family='"Liberation Sans", sans-serif' textLength="10.6" lengthAdjust="spacingAndGlyphs">0</text>
<text x="762.0" y="1166.5" font-size="20" fill="#8e8e9c" text-anchor="end" font-weight="normal" font-family='"Liberation Sans", sans-serif' textLength="27.5" lengthAdjust="spacingAndGlyphs">0.2</text>
<text x="762.0" y="1093.7" font-size="20" fill="#8e8e9c" text-anchor="end" font-weight="normal" font-family='"Liberation Sans", sans-serif' textLength="27.5" lengthAdjust="spacingAndGlyphs">0.4</text>
<text x="762.0" y="1021.0" font-size="20" fill="#8e8e9c" text-anchor="end" font-weight="normal" font-family='"Liberation Sans", sans-serif' textLength="27.5" lengthAdjust="spacingAndGlyphs">0.6</text>
<text x="762.0" y="948.2" font-size="20" fill="#8e8e9c" text-anchor="end" font-weight="normal" font-family='"Liberation Sans", sans-serif' textLength="27.5" lengthAdjust="spacingAndGlyphs">0.8</text>
<text x="1963.5" y="1219.7" font-size="20.5" fill="#8e8e9c" text-anchor="end" font-weight="normal" font-family='"Liberation Sans", sans-serif' textLength="41.0" lengthAdjust="spacingAndGlyphs">Step</text>
<polyline points="780.3,937.6 789.9,934.6 809.0,928.5 828.2,920.9 847.3,906.7 866.4,910.4 885.5,910.4 904.7,902.0 923.8,910.3 942.9,898.1 962.1,893.3 981.2,898.0 1000.3,889.1 1019.5,899.9 1038.6,893.3 1057.7,887.6" fill="none" stroke="#73995f" stroke-width="3.1" stroke-linejoin="miter" stroke-miterlimit="4" clip-path="url(#plotclip)"/>
<polyline points="780.3,993.7 789.9,996.1 809.0,1000.9 828.2,952.7 847.3,946.8 866.4,968.5 885.5,977.7 904.7,954.5 923.8,963.5 942.9,948.2 962.1,962.6 981.2,953.8 1000.3,966.0 1019.5,954.2 1038.6,953.2 1057.7,937.3 1076.8,976.6 1096.0,966.6 1115.1,958.1 1134.2,969.4" fill="none" stroke="#e9b797" stroke-width="3.1" stroke-linejoin="miter" stroke-miterlimit="4" clip-path="url(#plotclip)"/>
<polyline points="780.3,941.4 789.9,936.1 809.0,925.7 828.2,923.8 847.3,924.7 866.4,917.1 885.5,910.4 904.7,910.4 923.8,901.6 942.9,909.4 962.1,904.7 981.2,905.7 1000.3,904.2 1019.5,907.6 1038.6,910.4 1057.7,907.6 1076.8,916.1 1096.0,912.3 1115.1,915.1 1134.2,902.9 1153.4,907.6 1172.5,911.3 1191.6,901.4 1210.8,905.2 1229.9,912.2 1249.0,915.3 1268.2,919.4 1287.3,908.2 1306.4,917.1 1325.5,908.1 1344.7,909.4 1363.8,918.5 1382.9,927.5 1402.1,919.5 1421.2,910.5 1440.3,927.3 1459.4,911.1 1478.6,921.2 1497.7,908.1 1516.8,912.8 1536.0,907.1 1555.1,896.7 1574.2,902.1 1593.4,897.5" fill="none" stroke="#dd7b40" stroke-width="3.1" stroke-linejoin="miter" stroke-miterlimit="4" clip-path="url(#plotclip)"/>
<polyline points="780.3,957.1 789.9,947.5 809.0,928.5 828.2,926.6 847.3,920.9 866.4,916.7 885.5,920.5 904.7,916.1 923.8,913.3 942.9,911.4 962.1,914.8 981.2,930.1 1000.3,915.7 1019.5,919.9 1038.6,926.6 1057.7,920.9 1076.8,914.3 1096.0,916.1 1115.1,919.9 1134.2,922.8 1153.4,918.7 1172.5,928.4 1191.6,923.3 1210.8,923.3 1229.9,926.1 1249.0,924.2 1268.2,915.7 1287.3,916.2 1306.4,930.7 1325.5,874.4 1344.7,886.4 1363.8,878.4 1382.9,898.3 1402.1,888.4 1421.2,878.4 1440.3,893.8 1459.4,878.7 1478.6,885.2 1497.7,889.9 1516.8,876.8 1536.0,883.3 1555.1,886.5 1574.2,886.4 1593.4,890.5" fill="none" stroke="#e6b243" stroke-width="3.1" stroke-linejoin="miter" stroke-miterlimit="4" clip-path="url(#plotclip)"/>
<polyline points="780.3,938.0 789.9,932.3 809.0,920.9 828.2,911.4 847.3,913.6 866.4,909.5 885.5,907.6 904.7,907.0 923.8,911.7 942.9,901.0 962.1,904.1 981.2,906.6 1000.3,901.9 1019.5,900.0 1038.6,899.6 1057.7,894.3 1076.8,900.0 1096.0,902.8 1115.1,900.3 1134.2,901.8 1153.4,893.3 1172.5,891.4 1191.6,889.4 1210.8,892.8 1229.9,909.8 1249.0,902.3 1268.2,895.1 1287.3,893.5 1306.4,906.8 1325.5,888.4 1344.7,901.8 1363.8,901.8 1382.9,899.6 1402.1,918.4 1421.2,896.5 1440.3,906.0 1459.4,897.6 1478.6,876.9 1497.7,884.3 1516.8,892.2 1536.0,923.3 1555.1,892.5 1574.2,895.9 1593.4,882.5 1612.5,890.9 1631.6,900.0 1650.8,885.9 1669.9,890.3 1689.0,887.2 1708.1,888.9 1727.3,885.4 1746.4,893.0 1765.5,894.0 1784.7,889.5 1803.8,885.5 1822.9,894.5 1842.0,886.8 1861.2,884.8 1880.3,884.8 1899.4,889.5 1918.6,886.9 1937.7,896.0 1956.8,905.5 1976.0,890.9" fill="none" stroke="#cb5050" stroke-width="3.1" stroke-linejoin="miter" stroke-miterlimit="4" clip-path="url(#plotclip)"/>
<polyline points="780.3,925.3 789.9,926.6 809.0,929.3 828.2,906.5 847.3,913.1 866.4,899.1 885.5,902.2 904.7,904.1 923.8,898.1 942.9,893.9 962.1,897.1 981.2,896.2 1000.3,894.3 1019.5,897.1 1038.6,891.4 1057.7,895.2 1076.8,897.4 1096.0,884.8 1115.1,888.5 1134.2,894.2 1153.4,890.4 1172.5,888.5 1191.6,878.7 1210.8,888.1 1229.9,891.3" fill="none" stroke="#9fc662" stroke-width="3.1" stroke-linejoin="miter" stroke-miterlimit="4" clip-path="url(#plotclip)"/>
<circle cx="1057.7" cy="887.6" r="4.8" fill="#4f9868"/>
<circle cx="1134.2" cy="969.4" r="4.8" fill="#e9b797"/>
<circle cx="1593.4" cy="897.5" r="4.8" fill="#dd7b40"/>
<circle cx="1593.4" cy="890.5" r="4.8" fill="#e6b243"/>
<circle cx="1976.0" cy="890.9" r="4.8" fill="#cb5050"/>
<circle cx="1229.9" cy="891.3" r="4.8" fill="#9fc662"/>
<text x="1352.5" y="804.6" font-size="24.6" fill="#2f3337" text-anchor="middle" font-weight="normal" font-family='"Liberation Sans", sans-serif' textLength="214.5" lengthAdjust="spacingAndGlyphs" stroke="#2f3337" stroke-width="0.85" stroke-linejoin="round">Accuracy Sneaker</text>
<rect x="838.6" y="835.3" width="20" height="4.5" rx="1.6" fill="#9fc662"/>
<text x="883.4" y="847.8" font-size="20.3" fill="#9fc662" text-anchor="start" font-weight="normal" font-family='"DejaVu Sans Mono", "Liberation Mono", monospace' textLength="96.2" lengthAdjust="spacingAndGlyphs">cefvzr4v</text>
<rect x="1016.8" y="835.3" width="20" height="4.5" rx="1.6" fill="#cb5050"/>
<text x="1061.6" y="847.8" font-size="20.3" fill="#cb5050" text-anchor="start" font-weight="normal" font-family='"DejaVu Sans Mono", "Liberation Mono", monospace' textLength="96.2" lengthAdjust="spacingAndGlyphs">1zac20j4</text>
<rect x="1195.0" y="835.3" width="20" height="4.5" rx="1.6" fill="#e6b243"/>
<text x="1239.8" y="847.8" font-size="20.3" fill="#e6b243" text-anchor="start" font-weight="normal" font-family='"DejaVu Sans Mono", "Liberation Mono", monospace' textLength="96.2" lengthAdjust="spacingAndGlyphs">lrnjdgok</text>
<rect x="1373.2" y="835.3" width="20" height="4.5" rx="1.6" fill="#e9b797"/>
<text x="1418.0" y="847.8" font-size="20.3" fill="#e9b797" text-anchor="start" font-weight="normal" font-family='"DejaVu Sans Mono", "Liberation Mono", monospace' textLength="96.2" lengthAdjust="spacingAndGlyphs">ocdy5p6t</text>
<rect x="1551.4" y="835.3" width="20" height="4.5" rx="1.6" fill="#dd7b40"/>
<text x="1596.2" y="847.8" font-size="20.3" fill="#dd7b40" text-anchor="start" font-weight="normal" font-family='"DejaVu Sans Mono", "Liberation Mono", monospace' textLength="96.2" lengthAdjust="spacingAndGlyphs">5n8c04g0</text>
<rect x="1729.6" y="835.3" width="20" height="4.5" rx="1.6" fill="#55996a"/>
<text x="1774.4" y="847.8" font-size="20.3" fill="#55996a" text-anchor="start" font-weight="normal" font-family='"DejaVu Sans Mono", "Liberation Mono", monospace' textLength="96.2" lengthAdjust="spacingAndGlyphs">tj5d9npr</text>
</g>
</svg>
</body></html>
